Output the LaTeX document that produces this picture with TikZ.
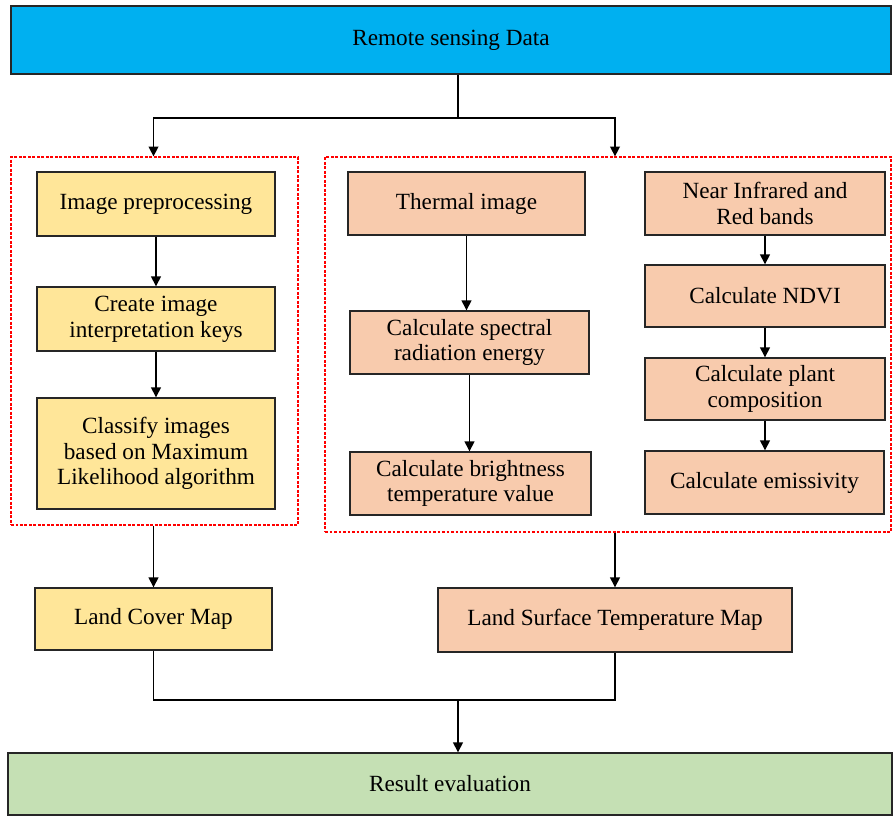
\documentclass[tikz,border=0pt]{standalone}
\usepackage{fontspec}
\setmainfont{Liberation Serif}
\usetikzlibrary{arrows.meta}
\definecolor{skyblue}{HTML}{00B0F0}
\definecolor{paleyellow}{HTML}{FFE699}
\definecolor{salmon}{HTML}{F8CBAD}
\definecolor{palegreen}{HTML}{C5E0B4}
\tikzset{
  box/.style={draw=black!85, line width=1pt, inner sep=0pt, align=center,
    font=\fontsize{16.5}{18.3}\selectfont},
  group/.style={draw=red, line width=0.9pt, dash pattern=on 2pt off 1.2pt,
    inner sep=0pt},
  arr/.style={-{Triangle[width=7pt,length=7pt]}, line width=1pt},
  link/.style={line width=1pt}
}
\begin{document}
\begin{tikzpicture}[x=0.025cm,y=-0.025cm]
  \useasboundingbox (0,0) rectangle (893,817);
  % groups
  \node[group, minimum width=287*0.025cm, minimum height=368*0.025cm] (grpL) at (154.5,341) {};
  \node[group, minimum width=566*0.025cm, minimum height=375*0.025cm] (grpR) at (608,344.5) {};
  % boxes
  \node[box, fill=skyblue, minimum width=880*0.025cm, minimum height=68*0.025cm] (top) at (451,40) {Remote sensing Data};
  \node[box, fill=paleyellow, minimum width=238*0.025cm, minimum height=64*0.025cm] (prep) at (156,204) {Image preprocessing};
  \node[box, fill=paleyellow, minimum width=238*0.025cm, minimum height=64*0.025cm] (keys) at (156,319) {Create image\\interpretation keys};
  \node[box, fill=paleyellow, minimum width=238*0.025cm, minimum height=111*0.025cm] (classify) at (156,453.5) {Classify images\\based on Maximum\\Likelihood algorithm};
  \node[box, fill=salmon, minimum width=237*0.025cm, minimum height=63*0.025cm] (thermal) at (466.5,203.5) {Thermal image};
  \node[box, fill=salmon, minimum width=239*0.025cm, minimum height=63*0.025cm] (spectral) at (469.5,342.5) {Calculate spectral\\radiation energy};
  \node[box, fill=salmon, minimum width=241*0.025cm, minimum height=63*0.025cm] (bright) at (470.5,483.5) {Calculate brightness\\temperature value};
  \node[box, fill=salmon, minimum width=240*0.025cm, minimum height=63*0.025cm] (nir) at (765,203.5) {Near Infrared and\\Red bands};
  \node[box, fill=salmon, minimum width=240*0.025cm, minimum height=62*0.025cm] (ndvi) at (765,296) {Calculate NDVI};
  \node[box, fill=salmon, minimum width=240*0.025cm, minimum height=62*0.025cm] (plant) at (765,389) {Calculate plant\\composition};
  \node[box, fill=salmon, minimum width=239*0.025cm, minimum height=63*0.025cm] (emis) at (764.5,482.5) {Calculate emissivity};
  \node[box, fill=paleyellow, minimum width=237*0.025cm, minimum height=62*0.025cm] (lcm) at (153.5,619) {Land Cover Map};
  \node[box, fill=salmon, minimum width=354*0.025cm, minimum height=64*0.025cm] (lst) at (615,620) {Land Surface Temperature Map};
  \node[box, fill=palegreen, minimum width=884*0.025cm, minimum height=62*0.025cm] (res) at (450,784) {Result evaluation};
  \coordinate (split) at (458,118);
  \coordinate (merge) at (458,700);
  % connectors
  \draw[link] (split |- top.south) -- (split);
  \draw[arr] (split) -| (lcm |- grpL.north);
  \draw[arr] (split) -| (lst |- grpR.north);
  \draw[arr] (prep) -- (keys);
  \draw[arr] (keys) -- (classify);
  \draw[arr] (thermal.south) -- (thermal.south |- spectral.north);
  \draw[arr] (spectral.south) -- (spectral.south |- bright.north);
  \draw[arr] (nir) -- (ndvi);
  \draw[arr] (ndvi) -- (plant);
  \draw[arr] (plant) -- (plant |- emis.north);
  \draw[arr] (lcm |- grpL.south) -- (lcm);
  \draw[arr] (lst |- grpR.south) -- (lst);
  \draw[link] (lcm.south) |- (lst |- merge) -- (lst.south);
  \draw[arr] (merge) -- (merge |- res.north);
\end{tikzpicture}
\end{document}
